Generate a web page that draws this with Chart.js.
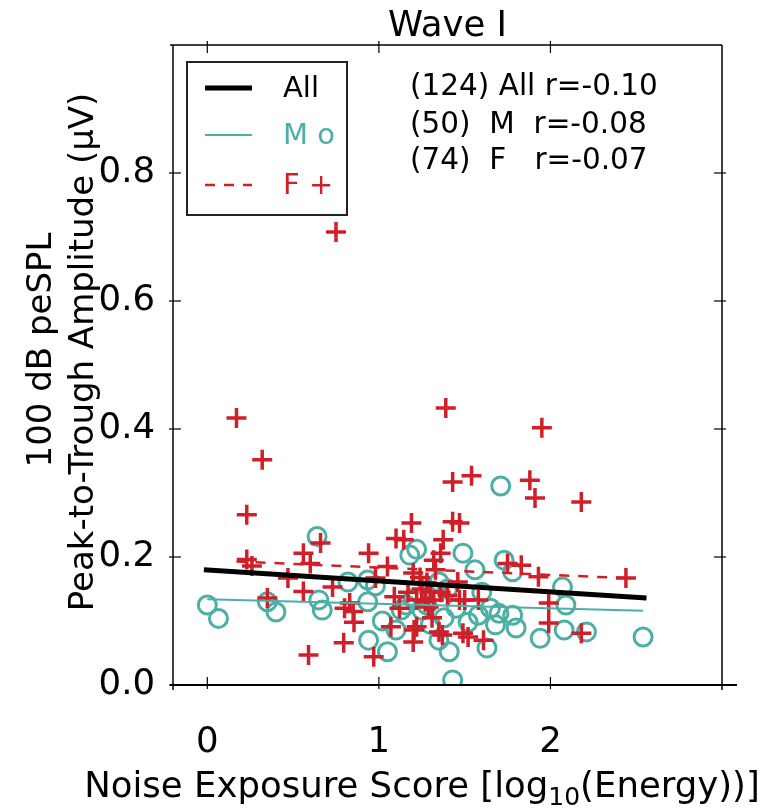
<!DOCTYPE html>
<html>
<head>
<meta charset="utf-8">
<script src="https://cdn.jsdelivr.net/npm/chart.js@4/dist/chart.umd.min.js"></script>
<style>
  html, body { margin: 0; padding: 0; background: #fff; }
  canvas { display: block; }
</style>
</head>
<body>
<canvas id="chart" width="778" height="812"></canvas>
<script>
// Tick positions
const xTicks = [0, 1, 2];
const yTicks = [0, 0.2, 0.4, 0.6, 0.8];

// Male listeners: noise exposure score vs. wave I amplitude
const maleX = [0.00, 0.065, 0.35, 0.40, 0.64, 0.65, 0.67, 0.82, 0.935, 0.935,
               0.94, 1.05, 1.10, 1.13, 1.16, 1.18, 1.22, 1.25, 1.35, 1.35,
               1.41, 1.43, 1.49, 1.56, 1.58, 1.65, 1.70, 1.63, 1.71, 1.73,
               1.78, 1.78, 1.80, 1.94, 2.07, 2.09, 2.08, 2.21, 2.54, 1.02,
               1.20, 1.28, 1.30, 1.40, 1.45, 1.52, 1.60, 1.68, 0.98, 1.38];
const maleY = [0.125, 0.104, 0.130, 0.114, 0.232, 0.133, 0.117, 0.161, 0.164, 0.130,
               0.070, 0.052, 0.086, 0.117, 0.125, 0.203, 0.212, 0.117, 0.161, 0.070,
               0.052, 0.008, 0.206, 0.180, 0.109, 0.120, 0.112, 0.058, 0.311, 0.195,
               0.177, 0.109, 0.089, 0.073, 0.153, 0.125, 0.086, 0.083, 0.075, 0.100,
               0.135, 0.125, 0.095, 0.150, 0.120, 0.098, 0.145, 0.094, 0.155, 0.105];

// Female listeners
const femaleX = [0.17, 0.32, 0.23, 0.23, 0.26, 0.47, 0.35, 0.56, 0.60, 0.56,
                 0.59, 0.66, 0.73, 0.75, 0.80, 0.83, 0.85, 0.855, 0.795, 0.94,
                 0.98, 0.97, 1.07, 1.09, 1.10, 1.145, 1.19, 1.20, 1.24, 1.22,
                 1.205, 1.20, 1.36, 1.32, 1.375, 1.43, 1.47, 1.39, 1.43, 1.54,
                 1.46, 1.47, 1.50, 1.58, 1.32, 1.29, 1.35, 1.37, 1.49, 1.52,
                 1.61, 1.22, 1.75, 1.83, 1.88, 1.91, 1.95, 1.93, 1.99, 1.99,
                 2.18, 2.18, 2.44, 1.25, 1.28, 1.30, 1.27, 1.31, 1.36, 1.40,
                 1.33, 1.12, 1.17, 1.05];
const femaleY = [0.417, 0.352, 0.266, 0.196, 0.186, 0.167, 0.136, 0.206, 0.190, 0.146,
                 0.047, 0.222, 0.153, 0.708, 0.120, 0.128, 0.115, 0.098, 0.066, 0.206,
                 0.167, 0.044, 0.091, 0.138, 0.229, 0.227, 0.253, 0.175, 0.168, 0.133,
                 0.086, 0.067, 0.206, 0.195, 0.227, 0.255, 0.253, 0.433, 0.317, 0.327,
                 0.161, 0.133, 0.133, 0.133, 0.133, 0.122, 0.083, 0.078, 0.081, 0.075,
                 0.070, 0.091, 0.190, 0.187, 0.320, 0.292, 0.402, 0.169, 0.128, 0.097,
                 0.286, 0.081, 0.167, 0.150, 0.160, 0.145, 0.130, 0.105, 0.145, 0.140,
                 0.180, 0.120, 0.145, 0.185];

// Linear fits (end points)
const fitAllX = [-0.02, 2.56], fitAllY = [0.180, 0.136];
const fitMaleX = [0.00, 2.54],  fitMaleY = [0.134, 0.116];
const fitFemaleX = [0.17, 2.44], fitFemaleY = [0.193, 0.167];

// Text
const titleText = 'Wave I';
const statsLines = ['(124) All r=-0.10', '(50)  M  r=-0.08', '(74)  F   r=-0.07'];
const legendLabels = ['All', 'M o', 'F +'];
const yTitleLines = ['100 dB peSPL', 'Peak-to-Trough Amplitude (\u03bcV)'];
const xTitleParts = ['Noise Exposure Score [log', '10', '(Energy))]'];

const TEAL = '#4cafa6';
const RED = '#d01f28';
const FONT = '"DejaVu Sans", sans-serif';

const pairs = (xs, ys) => xs.map((v, i) => ({ x: v, y: ys[i] }));

Chart.defaults.font.family = FONT;

const decorations = {
  id: 'decorations',
  afterDraw(chart) {
    const { ctx, chartArea: a, scales: { x, y } } = chart;
    const seg = (x1, y1, x2, y2) => { ctx.beginPath(); ctx.moveTo(x1, y1); ctx.lineTo(x2, y2); ctx.stroke(); };
    ctx.save();

    // spines
    ctx.strokeStyle = '#000';
    ctx.lineWidth = 1.5;
    seg(a.left, a.top, a.left, a.bottom + 5);
    seg(a.right, a.top, a.right, a.bottom + 5);
    seg(a.left - 3, a.top, a.right, a.top);
    ctx.lineWidth = 2;
    seg(a.left - 3, a.bottom, a.right + 15, a.bottom);

    // inward ticks on all four sides
    ctx.lineWidth = 1.2;
    xTicks.forEach(v => {
      const px = x.getPixelForValue(v);
      seg(px, a.bottom + 4, px, a.bottom - 8);
      seg(px, a.top - 4, px, a.top + 8);
    });
    yTicks.forEach(v => {
      const py = y.getPixelForValue(v);
      seg(a.left - 4, py, a.left + 8, py);
      seg(a.right + 4, py, a.right - 8, py);
    });

    // title
    ctx.fillStyle = '#000';
    ctx.font = '35.5px ' + FONT;
    ctx.textAlign = 'center';
    ctx.textBaseline = 'alphabetic';
    ctx.fillText(titleText, (a.left + a.right) / 2, 36);

    // x axis title with subscript
    const big = '35.5px ' + FONT, small = '25px ' + FONT;
    ctx.font = big; const w0 = ctx.measureText(xTitleParts[0]).width;
    const w2 = ctx.measureText(xTitleParts[2]).width;
    ctx.font = small; const w1 = ctx.measureText(xTitleParts[1]).width;
    const total = w0 + w1 + w2;
    let cx = 422 - total / 2;
    const base = 797;
    ctx.textAlign = 'left';
    ctx.font = big; ctx.fillText(xTitleParts[0], cx, base); cx += w0;
    ctx.font = small; ctx.fillText(xTitleParts[1], cx, base + 8); cx += w1;
    ctx.font = big; ctx.fillText(xTitleParts[2], cx, base);

    // y axis title, two rotated lines
    ctx.font = '34px ' + FONT;
    ctx.textAlign = 'center';
    [[51, 350], [93, 352]].forEach(([bx, cy], i) => {
      ctx.save();
      ctx.translate(bx, cy);
      ctx.rotate(-Math.PI / 2);
      ctx.fillText(yTitleLines[i], 0, 0);
      ctx.restore();
    });

    // legend box
    ctx.lineWidth = 2;
    ctx.strokeStyle = '#222';
    ctx.strokeRect(187, 62, 160, 153);
    const rows = [
      { y: 88, color: '#000', width: 5, dash: [] },
      { y: 135, color: TEAL, width: 2.2, dash: [] },
      { y: 185, color: RED, width: 2.5, dash: [10, 9] }
    ];
    ctx.font = '29px ' + FONT;
    ctx.textAlign = 'left';
    ctx.textBaseline = 'middle';
    rows.forEach((r, i) => {
      ctx.strokeStyle = r.color;
      ctx.lineWidth = r.width;
      ctx.setLineDash(r.dash);
      seg(205, r.y, 252, r.y);
      ctx.setLineDash([]);
      ctx.fillStyle = r.color;
      ctx.fillText(legendLabels[i], 283, r.y + 1);
    });

    // correlation summary
    ctx.fillStyle = '#000';
    ctx.font = '29.5px ' + FONT;
    ctx.textBaseline = 'alphabetic';
    [95, 133, 169].forEach((by, i) => ctx.fillText(statsLines[i], 410, by));

    ctx.restore();
  }
};

new Chart(document.getElementById('chart'), {
  type: 'scatter',
  data: {
    datasets: [
      { label: 'All fit', data: pairs(fitAllX, fitAllY), showLine: true, borderColor: '#000',
        borderWidth: 5, pointRadius: 0, fill: false, order: 0 },
      { label: 'M fit', data: pairs(fitMaleX, fitMaleY), showLine: true, borderColor: TEAL,
        borderWidth: 2.2, pointRadius: 0, fill: false, order: 0 },
      { label: 'F fit', data: pairs(fitFemaleX, fitFemaleY), showLine: true, borderColor: RED,
        borderWidth: 2.5, borderDash: [10, 9], pointRadius: 0, fill: false, order: 0 },
      { label: 'F', data: pairs(femaleX, femaleY), pointStyle: 'cross', pointRadius: 10,
        borderWidth: 3.5, borderColor: RED, backgroundColor: RED, order: 1 },
      { label: 'M', data: pairs(maleX, maleY), pointStyle: 'circle', pointRadius: 9,
        borderWidth: 3, borderColor: TEAL, backgroundColor: 'rgba(0,0,0,0)', order: 2 }
    ]
  },
  options: {
    responsive: false,
    animation: false,
    devicePixelRatio: 1,
    layout: { padding: { top: 45, right: 56, left: 0, bottom: 0 } },
    plugins: { legend: { display: false }, tooltip: { enabled: false }, title: { display: false } },
    scales: {
      x: {
        type: 'linear', min: -0.2, max: 3.0,
        afterBuildTicks: s => { s.ticks = xTicks.map(v => ({ value: v })); },
        afterFit: s => { s.height = 127; },
        grid: { display: false }, border: { display: false },
        ticks: { color: '#000', font: { size: 35.5 }, padding: 28, maxRotation: 0, callback: v => String(v) }
      },
      y: {
        type: 'linear', min: 0, max: 1.0,
        afterBuildTicks: s => { s.ticks = yTicks.map(v => ({ value: v })); },
        afterFit: s => { s.width = 173; },
        grid: { display: false }, border: { display: false },
        ticks: { color: '#000', font: { size: 35.5 }, padding: 10, callback: v => v.toFixed(1) }
      }
    }
  },
  plugins: [decorations]
});
</script>
</body>
</html>
